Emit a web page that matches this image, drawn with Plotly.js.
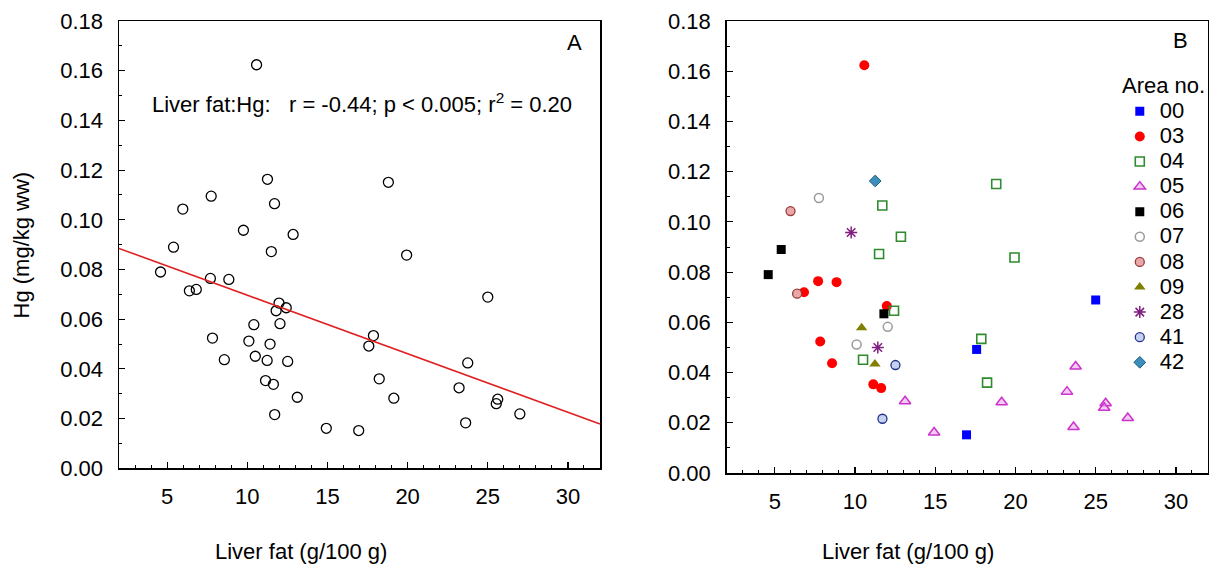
<!DOCTYPE html>
<html>
<head>
<meta charset="utf-8">
<script src="https://cdn.plot.ly/plotly-3.0.1.min.js"></script>
<style>html,body{margin:0;padding:0;background:#fff;overflow:hidden;}#chart{width:1240px;height:569px;}</style>
</head>
<body>
<div id="chart"></div>
<script>
// ---- Data (Liver fat g/100 g, Hg mg/kg ww) by area ----
const areaNames = ["00","03","04","05","06","07","08","09","28","41","42"];
const x00 = [16.95, 17.58, 25.0];
const y00 = [0.0152, 0.0492, 0.0689];
const x03 = [10.58, 7.70, 8.85, 6.82, 11.98, 7.83, 8.57, 11.14, 11.63];
const y03 = [0.1624, 0.0764, 0.0760, 0.0720, 0.0665, 0.0524, 0.0437, 0.0353, 0.0338];
const x04 = [18.80, 11.70, 12.86, 11.50, 19.94, 12.43, 17.87, 10.50, 18.23];
const y04 = [0.1151, 0.1065, 0.0941, 0.0872, 0.0858, 0.0646, 0.0534, 0.0451, 0.0360];
const x05 = [13.12, 19.14, 14.93, 23.75, 23.21, 25.62, 25.53, 27.00, 23.62];
const y05 = [0.0286, 0.0282, 0.0161, 0.0424, 0.0324, 0.0278, 0.0260, 0.0219, 0.0183];
const x06 = [5.40, 4.59, 11.80];
const y06 = [0.0890, 0.0790, 0.0634];
const x07 = [7.75, 12.04, 10.10];
const y07 = [0.1095, 0.0582, 0.0512];
const x08 = [5.98, 6.39];
const y08 = [0.1043, 0.0714];
const x09 = [10.41, 11.24];
const y09 = [0.0578, 0.0434];
const x28 = [9.76, 11.42];
const y28 = [0.0958, 0.0500];
const x41 = [12.52, 11.71];
const y41 = [0.0430, 0.0216];
const x42 = [11.26];
const y42 = [0.1163];
// regression line
const fitX = [2, 32];
const fitY = [0.0885, 0.0178];

const groupsX = [x00,x03,x04,x05,x06,x07,x08,x09,x28,x41,x42];
const groupsY = [y00,y03,y04,y05,y06,y07,y08,y09,y28,y41,y42];

const FONT = "Liberation Sans, Arial, sans-serif";
const FS = 22;

const styles = [
  {symbol:"square", size:9, color:"#0000ff", line:{width:0}},
  {symbol:"circle", size:10, color:"#ff0000", line:{width:0}},
  {symbol:"square-open", size:9, color:"#2e8b2e", line:{width:1.6}},
  {symbol:"triangle-up", size:10, color:"rgba(235,170,235,0.6)", line:{width:1.5, color:"#cc33cc"}},
  {symbol:"square", size:9, color:"#000000", line:{width:0}},
  {symbol:"circle-open", size:9, color:"#9a9a9a", line:{width:1.5}},
  {symbol:"circle", size:9, color:"#e8a8a8", line:{width:1.3, color:"#9a3a3a"}},
  {symbol:"triangle-up", size:10, color:"#7f7f00", line:{width:0}},
  {symbol:"asterisk-open", size:10, color:"#7f1f7f", line:{width:1.5, color:"#7f1f7f"}},
  {symbol:"circle", size:9, color:"#c4d2f0", line:{width:1.3, color:"#22318a"}},
  {symbol:"diamond", size:9, color:"#3b8fbd", line:{width:1, color:"#1e5a7a"}}
];

const traces = [];
// Panel A: all points, open black circles
traces.push({
  x: [].concat(...groupsX), y: [].concat(...groupsY),
  type:"scatter", mode:"markers", xaxis:"x", yaxis:"y", showlegend:false,
  marker:{symbol:"circle-open", size:10, color:"#000", line:{width:1.3}}
});
traces.push({
  x: fitX, y: fitY, type:"scatter", mode:"lines", xaxis:"x", yaxis:"y",
  showlegend:false, line:{color:"#e02020", width:1.6}
});
// Panel B: by area
for (let i=0;i<areaNames.length;i++){
  traces.push({
    x: groupsX[i], y: groupsY[i], type:"scatter", mode:"markers",
    xaxis:"x2", yaxis:"y2",
    name: '<span style="font-size:' + FS + 'px">' + areaNames[i] + '</span>',
    marker: styles[i]
  });
}

function xax(domain){
  return {
    domain: domain, range:[2,32], showline:true, linecolor:"#000", linewidth:1.5,
    mirror:true, ticks:"inside", ticklen:6, tickwidth:1.2, tickcolor:"#000",
    tick0:0, dtick:5, showgrid:false, zeroline:false,
    minor:{dtick:1, ticks:"inside", ticklen:3, tickwidth:1, tickcolor:"#000", showgrid:false},
    tickfont:{family:FONT, size:FS, color:"#000"}, ticklabelstandoff:8
  };
}
function yax(domain, anchor){
  return {
    domain: domain, range:[0,0.18], showline:true, linecolor:"#000", linewidth:1.5,
    mirror:true, ticks:"inside", ticklen:6, tickwidth:1.2, tickcolor:"#000",
    tick0:0, dtick:0.02, tickformat:".2f", showgrid:false, zeroline:false,
    minor:{dtick:0.01, ticks:"inside", ticklen:3, tickwidth:1, tickcolor:"#000", showgrid:false},
    tickfont:{family:FONT, size:FS, color:"#000"}, anchor: anchor, ticklabelstandoff:10
  };
}

const x1 = xax([0, 0.4417]); x1.anchor = "y";
const x2 = xax([0.558, 1]); x2.anchor = "y2";

const layout = {
  width:1240, height:569,
  margin:{l:119, r:32, t:21, b:96},
  paper_bgcolor:"#fff", plot_bgcolor:"#fff",
  font:{family:FONT, size:FS, color:"#000"},
  xaxis: x1, yaxis: yax([0.0104, 1], "x"),
  xaxis2: x2, yaxis2: yax([0, 1], "x2"),
  showlegend:true,
  legend:{
    x:0.919, xanchor:"left", y:0.839, yanchor:"top",
    font:{family:FONT, size:17, color:"#000"},
    bgcolor:"rgba(0,0,0,0)", borderwidth:0, tracegroupgap:0
  },
  annotations:[
    {text:"A", xref:"paper", yref:"paper", x:0.4185, y:0.9535, xanchor:"center", yanchor:"middle", showarrow:false, font:{size:FS}},
    {text:"B", xref:"paper", yref:"paper", x:0.9743, y:0.9558, xanchor:"center", yanchor:"middle", showarrow:false, font:{size:FS}},
    {text:"Area no.", xref:"paper", yref:"paper", x:0.919, y:0.858, xanchor:"left", yanchor:"middle", showarrow:false, font:{size:FS}},
    {text:"Liver fat:Hg:\u00a0\u00a0\u00a0r = -0.44; p < 0.005; r<sup>2</sup> = 0.20", xref:"x", yref:"y",
     x:3.92, y:0.1469, xanchor:"left", yanchor:"middle", showarrow:false, font:{size:FS}},
    {text:"Liver fat (g/100 g)", xref:"paper", yref:"paper", x:0.1667, y:-0.1726, xanchor:"center", yanchor:"middle", showarrow:false, font:{size:FS}},
    {text:"Liver fat (g/100 g)", xref:"paper", yref:"paper", x:0.7245, y:-0.1726, xanchor:"center", yanchor:"middle", showarrow:false, font:{size:FS}},
    {text:"Hg (mg/kg ww)", xref:"paper", yref:"paper", x:-0.0891, y:0.5055, xanchor:"center", yanchor:"middle", textangle:-90, showarrow:false, font:{size:FS}}
  ]
};

Plotly.newPlot("chart", traces, layout, {displayModeBar:false, staticPlot:true});
</script>
</body>
</html>
